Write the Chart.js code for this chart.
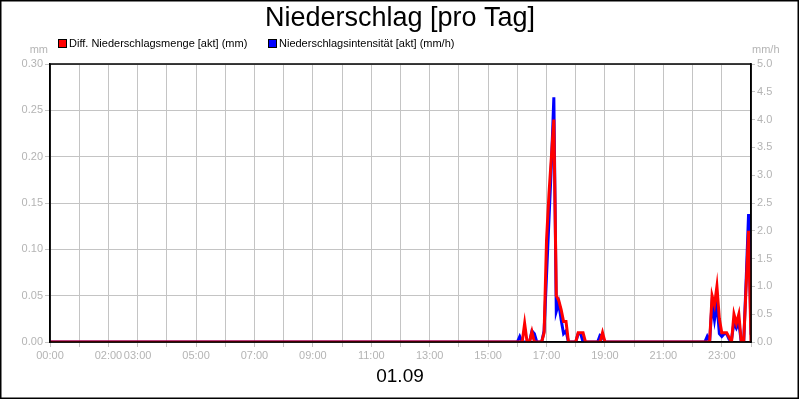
<!DOCTYPE html>
<html>
<head>
<meta charset="utf-8">
<script src="https://cdn.jsdelivr.net/npm/chart.js@4.4.1/dist/chart.umd.min.js"></script>
<style>
  html, body { margin: 0; padding: 0; background: #fff; }
  #wrap { width: 800px; height: 400px; }
</style>
</head>
<body>
<div id="wrap"><canvas id="myChart" width="800" height="400"></canvas></div>
<script>
// Zeitpunkte (5-Minuten-Werte, nur um die Regenereignisse herum, sonst 0)
var times = ['00:00','16:00','16:05','16:10','16:15','16:20','16:25','16:30','16:35','16:40',
             '16:50','16:55','17:00','17:05','17:10','17:15','17:20','17:25','17:30','17:35',
             '17:40','17:45','18:00','18:05','18:10','18:15','18:20','18:45','18:50','18:55',
             '19:00','22:25','22:30','22:35','22:40','22:45','22:50','22:55','23:00','23:05',
             '23:10','23:15','23:20','23:25','23:30','23:35','23:40','23:45','23:50','23:55','24:00'];

// Diff. Niederschlagsmenge [akt] (mm)
var menge = [0, 0, 0, 0, 0.02, 0, 0, 0.011, 0, 0,
             0, 0.01, 0.11, 0.16, 0.20, 0.24, 0.05, 0.045, 0.035, 0.022,
             0.022, 0, 0, 0.01, 0.01, 0.01, 0, 0, 0, 0.01,
             0, 0, 0, 0, 0.05, 0.04, 0.06, 0.025, 0.01, 0.01,
             0.01, 0.005, 0, 0.03, 0.02, 0.03, 0, 0, 0.06, 0.12, 0];

// Niederschlagsintensität [akt] (mm/h)
var intensitaet = [0, 0, 0.1, 0, 0, 0, 0, 0.2, 0.15, 0,
                   0, 0.2, 1.2, 2.2, 3.2, 4.4, 0.55, 0.7, 0.4, 0.15,
                   0.2, 0, 0, 0.15, 0.15, 0, 0, 0, 0.12, 0.1,
                   0, 0, 0.1, 0, 0.7, 0.4, 0.7, 0.15, 0.1, 0.15,
                   0.15, 0.05, 0.05, 0.35, 0.25, 0.35, 0, 0, 1.1, 2.3, 0.13];

var xTickLabels = ['00:00','02:00','03:00','05:00','07:00','09:00','11:00',
                   '13:00','15:00','17:00','19:00','21:00','23:00'];

var seriesNames = ['Diff. Niederschlagsmenge [akt] (mm)', 'Niederschlagsintensität [akt] (mm/h)'];
var seriesColors = ['#ff0000', '#0000ff'];

var fontFam = '"Liberation Sans", Arial, sans-serif';
var tickGrey = '#b4b4b4';
var gridGrey = '#c4c4c4';

function toHours(t) {
  var p = t.split(':');
  return parseInt(p[0], 10) + parseInt(p[1], 10) / 60;
}
function hh(v) {
  return (v < 10 ? '0' : '') + v + ':00';
}

var mengePts = [];
var intPts = [];
for (var i in times) {
  mengePts.push({x: toHours(times[i]), y: menge[i]});
  intPts.push({x: toHours(times[i]), y: intensitaet[i]});
}

// Legende, Einheiten, Datum und Rahmen
var extras = {
  id: 'extras',
  afterDraw: function(chart) {
    var ctx = chart.ctx;
    var a = chart.chartArea;
    ctx.save();

    // Rahmen um den Plotbereich
    ctx.strokeStyle = '#000';
    ctx.lineWidth = 1.5;
    ctx.strokeRect(a.left, a.top, a.right - a.left, a.bottom - a.top);

    // Legende
    var lx = [58, 268];
    ctx.font = '11px ' + fontFam;
    ctx.textBaseline = 'middle';
    ctx.textAlign = 'left';
    for (var k = 0; k < 2; k++) {
      ctx.fillStyle = seriesColors[k];
      ctx.fillRect(lx[k] + 0.5, 39.5, 8, 8);
      ctx.lineWidth = 1;
      ctx.strokeStyle = '#000';
      ctx.strokeRect(lx[k] + 0.5, 39.5, 8, 8);
      ctx.fillStyle = '#000';
      ctx.fillText(seriesNames[k], lx[k] + 11, 44);
    }

    // Einheiten
    ctx.fillStyle = tickGrey;
    ctx.textAlign = 'right';
    ctx.fillText('mm', 48, 50);
    ctx.textAlign = 'left';
    ctx.fillText('mm/h', 752, 50);

    // Datum
    ctx.fillStyle = '#000';
    ctx.textAlign = 'center';
    ctx.font = '19px ' + fontFam;
    ctx.fillText('01.09', 400, 377);

    // äußerer Rahmen
    ctx.lineWidth = 1.5;
    ctx.strokeStyle = '#000';
    ctx.strokeRect(0.75, 0.75, 797.5, 397.5);
    ctx.restore();
  }
};

var ctx = document.getElementById('myChart');

var chart = new Chart(ctx, {
  type: 'line',
  data: {
    datasets: [
      {
        label: seriesNames[0],
        data: mengePts,
        borderColor: seriesColors[0],
        backgroundColor: seriesColors[0],
        borderWidth: 3,
        pointRadius: 0,
        tension: 0,
        yAxisID: 'y'
      },
      {
        label: seriesNames[1],
        data: intPts,
        borderColor: seriesColors[1],
        backgroundColor: seriesColors[1],
        borderWidth: 3,
        pointRadius: 0,
        tension: 0,
        yAxisID: 'y2'
      }
    ]
  },
  options: {
    responsive: false,
    animation: false,
    devicePixelRatio: 1,
    layout: { padding: 0 },
    plugins: {
      legend: { display: false },
      tooltip: { enabled: false },
      title: {
        display: true,
        text: 'Niederschlag [pro Tag]',
        color: '#000',
        font: { family: fontFam, size: 27, weight: 'normal' },
        padding: { top: 2, bottom: 29.6 }
      }
    },
    scales: {
      x: {
        type: 'linear',
        min: 0,
        max: 24,
        afterFit: function(s) { s.height = 58; },
        afterBuildTicks: function(s) {
          var t = [];
          for (var h = 0; h <= 24; h++) t.push({value: h});
          s.ticks = t;
        },
        ticks: {
          autoSkip: false,
          maxRotation: 0,
          padding: 2,
          color: tickGrey,
          font: { family: fontFam, size: 11 },
          callback: function(v) {
            var l = hh(v);
            return xTickLabels.indexOf(l) >= 0 ? l : '';
          }
        },
        grid: { color: gridGrey, tickLength: 5, lineWidth: 1 },
        border: { color: '#000', width: 1.5 }
      },
      y: {
        position: 'left',
        min: 0,
        max: 0.30,
        afterFit: function(s) { s.width = 50; },
        ticks: {
          stepSize: 0.05,
          padding: 2,
          color: tickGrey,
          font: { family: fontFam, size: 11 },
          callback: function(v) { return v.toFixed(2); }
        },
        grid: { color: gridGrey, tickLength: 5, lineWidth: 1 },
        border: { color: '#000', width: 1.5 }
      },
      y2: {
        position: 'right',
        min: 0,
        max: 5,
        afterFit: function(s) { s.width = 49; },
        ticks: {
          stepSize: 0.5,
          padding: 2,
          color: tickGrey,
          font: { family: fontFam, size: 11 },
          callback: function(v) { return v.toFixed(1); }
        },
        grid: { drawOnChartArea: false, color: gridGrey, tickLength: 4 },
        border: { color: '#000', width: 1.5 }
      }
    }
  },
  plugins: [extras]
});
</script>
</body>
</html>
